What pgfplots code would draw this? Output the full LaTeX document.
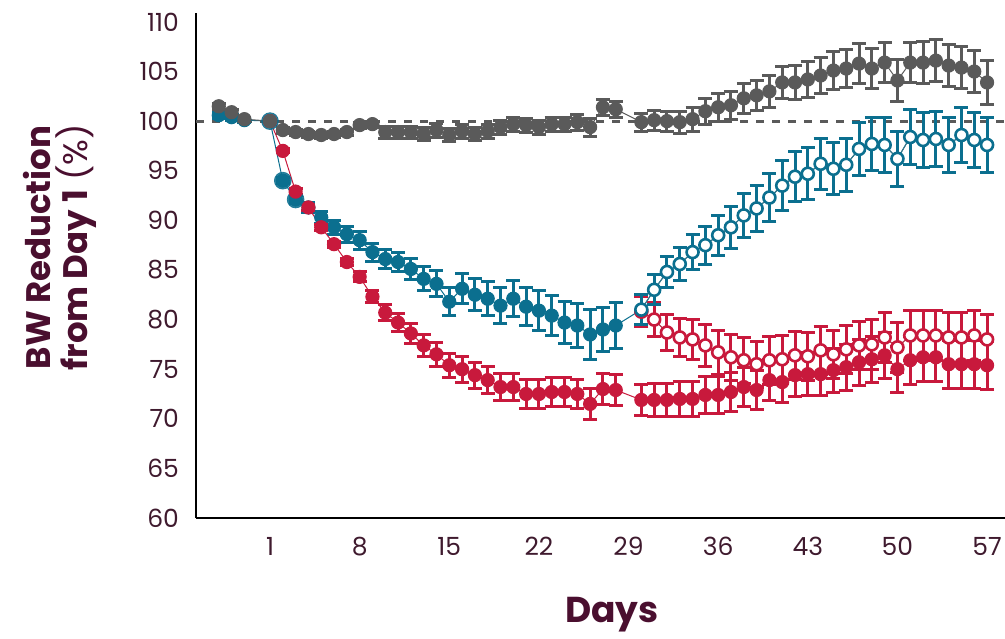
\documentclass[border=0pt]{standalone}
\usepackage{pgfplots}
\usepackage{pgfplotstable}
\pgfplotsset{compat=1.18}
\usepackage{fontspec}
\setmainfont{Poppins}
\definecolor{cgray}{HTML}{5A5A5A}
\definecolor{cblue}{HTML}{0B6F8F}
\definecolor{cred}{HTML}{C8193C}
\definecolor{ctext}{HTML}{4A0F2F}
\definecolor{ctick}{HTML}{3F1A2E}

\pgfplotstableread{
x y e
-3 101.5 0.3
-2 100.9 0.3
-1 100.2 0.2
1 100.0 0.0
2 99.1 0.3
3 98.9 0.3
4 98.7 0.3
5 98.6 0.3
6 98.7 0.3
7 98.9 0.3
8 99.6 0.3
9 99.7 0.3
10 98.9 0.6
11 98.9 0.6
12 98.9 0.6
13 98.7 0.7
14 99.1 0.7
15 98.6 0.7
16 99.0 0.7
17 98.7 0.7
18 99.0 0.7
19 99.4 0.7
20 99.7 0.7
21 99.6 0.7
22 99.4 0.7
23 99.7 0.7
24 99.7 0.7
25 99.9 0.8
26 99.4 0.9
27 101.4 0.8
28 101.2 0.8
30 99.9 0.9
31 100.1 1.0
32 100.0 1.0
33 99.9 1.1
34 100.2 1.2
35 101.0 1.3
36 101.4 1.4
37 101.6 1.4
38 102.3 1.5
39 102.6 1.5
40 103.0 1.6
41 103.9 1.6
42 103.9 1.7
43 104.2 1.8
44 104.6 1.8
45 105.1 1.9
46 105.3 1.9
47 105.8 2.0
48 105.3 2.0
49 105.9 2.0
50 104.1 2.1
51 105.9 2.0
52 105.9 2.1
53 106.1 2.1
54 105.6 2.1
55 105.4 2.1
56 105.0 2.1
57 103.9 2.2
}\graydata

\pgfplotstableread{
x y e
-3 100.6 0.3
-2 100.4 0.3
-1 100.1 0.2
1 100.0 0.0
2 94.0 0.3
3 92.1 0.4
4 91.3 0.5
5 90.3 0.6
6 89.3 0.7
7 88.6 0.8
8 88.0 0.9
9 86.8 0.9
10 86.1 1.0
11 85.8 1.0
12 85.1 1.1
13 84.1 1.2
14 83.6 1.3
15 81.8 1.4
16 83.1 1.5
17 82.5 1.6
18 82.1 1.7
19 81.4 1.8
20 82.1 1.8
21 81.3 1.9
22 80.9 2.0
23 80.4 2.0
24 79.7 2.1
25 79.4 2.2
26 78.5 2.5
27 79.0 2.2
28 79.4 2.3
}\bluefilled

\pgfplotstableread{
x y e
30 81.0 1.5
31 83.0 1.5
32 84.8 1.6
33 85.6 1.7
34 86.8 1.8
35 87.5 1.9
36 88.5 2.0
37 89.3 2.1
38 90.5 2.2
39 91.2 2.3
40 92.3 2.4
41 93.5 2.5
42 94.4 2.5
43 94.7 2.6
44 95.7 2.6
45 95.2 2.6
46 95.6 2.7
47 97.2 2.7
48 97.7 2.7
49 97.6 2.8
50 96.2 2.8
51 98.4 2.8
52 98.1 2.8
53 98.2 2.8
54 97.6 2.8
55 98.6 2.8
56 98.1 2.8
57 97.6 2.8
}\blueopen

\pgfplotstableread{
x y e
1 100.0 0.0
2 97.0 0.2
3 92.9 0.3
4 91.3 0.3
5 89.3 0.3
6 87.6 0.3
7 85.8 0.4
8 84.3 0.5
9 82.3 0.6
10 80.7 0.8
11 79.7 0.9
12 78.6 1.0
13 77.4 1.1
14 76.5 1.2
15 75.4 1.2
16 75.0 1.3
17 74.4 1.3
18 73.9 1.4
19 73.2 1.4
20 73.2 1.4
21 72.5 1.5
22 72.5 1.5
23 72.7 1.5
24 72.7 1.5
25 72.5 1.5
26 71.5 1.6
27 73.0 1.6
28 72.9 1.6
30 71.9 1.6
31 71.9 1.7
32 71.9 1.7
33 72.0 1.8
34 72.0 1.8
35 72.4 1.9
36 72.4 1.9
37 72.7 2.0
38 73.2 2.0
39 72.9 2.0
40 73.9 2.1
41 73.7 2.1
42 74.4 2.2
43 74.5 2.2
44 74.5 2.2
45 74.9 2.2
46 75.2 2.3
47 75.7 2.3
48 76.0 2.3
49 76.4 2.3
50 75.0 2.3
51 75.9 2.4
52 76.2 2.4
53 76.2 2.4
54 75.5 2.4
55 75.5 2.4
56 75.5 2.4
57 75.4 2.4
}\redfilled

\pgfplotstableread{
x y e
30 80.8 1.5
31 80.0 1.7
32 78.7 1.8
33 78.2 1.9
34 78.0 2.0
35 77.4 2.1
36 76.7 2.2
37 76.2 2.3
38 75.9 2.3
39 75.5 2.3
40 75.9 2.4
41 76.0 2.4
42 76.4 2.4
43 76.3 2.4
44 76.9 2.4
45 76.5 2.4
46 77.0 2.4
47 77.4 2.4
48 77.5 2.5
49 78.2 2.5
50 77.2 2.5
51 78.4 2.5
52 78.4 2.5
53 78.4 2.5
54 78.2 2.5
55 78.2 2.5
56 78.4 2.5
57 78.0 2.5
}\redopen

\pgfplotstableread{
x y
1 100.0
2 94.0
3 92.1
}\bluebig

\begin{document}
\begin{tikzpicture}
\useasboundingbox (-98pt,-60pt) rectangle (404.5pt,259pt);
\begin{axis}[
  at={(0,0)}, anchor=south west,
  scale only axis,
  width=404.5pt, height=252.5pt,
  xmin=-4.78, xmax=58.4,
  ymin=60, ymax=110.9,
  clip=false,
  axis x line*=bottom, axis y line*=left,
  axis line style={-, line width=1.2pt, black},
  major tick length=0pt,
  xtick={1,8,15,22,29,36,43,50,57},
  ytick={60,65,...,110},
  /pgf/number format/assume math mode=true,
  tick label style={font=\fontsize{12.5}{14}\selectfont, text=ctick},
  yticklabel style={xshift=-5pt},
  xticklabel style={yshift=-6pt},
  ylabel={\textbf{BW Reduction}\\\textbf{from Day 1} (\%)},
  ylabel style={at={(axis description cs:-0.168,0.536)}, anchor=center, rotate=0, align=center, font=\fontsize{17}{18.5}\selectfont, text=ctext},
  xlabel={\textbf{Days}},
  xlabel style={at={(axis description cs:0.514,-0.192)}, anchor=center, font=\fontsize{18}{20}\selectfont, text=ctext},
  error bars/y dir=both, error bars/y explicit,
  error bars/error bar style={line width=1.5pt, solid},
  error bars/error mark options={line width=1.5pt, mark size=3.5pt, solid, rotate=90},
]
% reference line
\addplot[cgray, dashed, line width=1.5pt, dash pattern=on 4pt off 4pt, forget plot, error bars/y dir=none] coordinates {(-4.78,100) (58.4,100)};
% blue filled
\addplot[cblue, line width=0.5pt, mark=*, mark size=3.3pt, mark options={solid, fill=cblue, draw=cblue},
  error bars/error bar style={cblue}] table[x=x, y=y, y error=e] {\bluefilled};
\addplot[cblue, line width=0.5pt, error bars/y dir=none] coordinates {(28,79.4) (30,81.0)};
% larger early blue markers
\addplot[only marks, mark=*, mark size=4.2pt, mark options={fill=cblue, draw=cblue, opacity=0.85}, error bars/y dir=none] table[x=x, y=y] {\bluebig};
% red filled
\addplot[cred, line width=0.5pt, mark=*, mark size=3.3pt, mark options={solid, fill=cred, draw=cred},
  error bars/error bar style={cred}] table[x=x, y=y, y error=e] {\redfilled};
% red open
\addplot[cred, line width=0.5pt, mark=*, mark size=3pt, mark options={solid, fill=white, draw=cred, line width=1.3pt},
  error bars/error bar style={cred}] table[x=x, y=y, y error=e] {\redopen};
\addplot[cred!60!gray, line width=0.5pt, error bars/y dir=none] table[x=x, y=y] {\redopen};
% blue open
\addplot[cblue, line width=0.5pt, mark=*, mark size=3pt, mark options={solid, fill=white, draw=cblue, line width=1.3pt},
  error bars/error bar style={cblue}] table[x=x, y=y, y error=e] {\blueopen};
\addplot[cblue!60!gray, line width=0.5pt, error bars/y dir=none] table[x=x, y=y] {\blueopen};
% gray
\addplot[cgray, line width=0.5pt, mark=*, mark size=3.3pt, mark options={solid, fill=cgray, draw=cgray},
  error bars/error bar style={cgray}] table[x=x, y=y, y error=e] {\graydata};
\end{axis}
\end{tikzpicture}
\end{document}
